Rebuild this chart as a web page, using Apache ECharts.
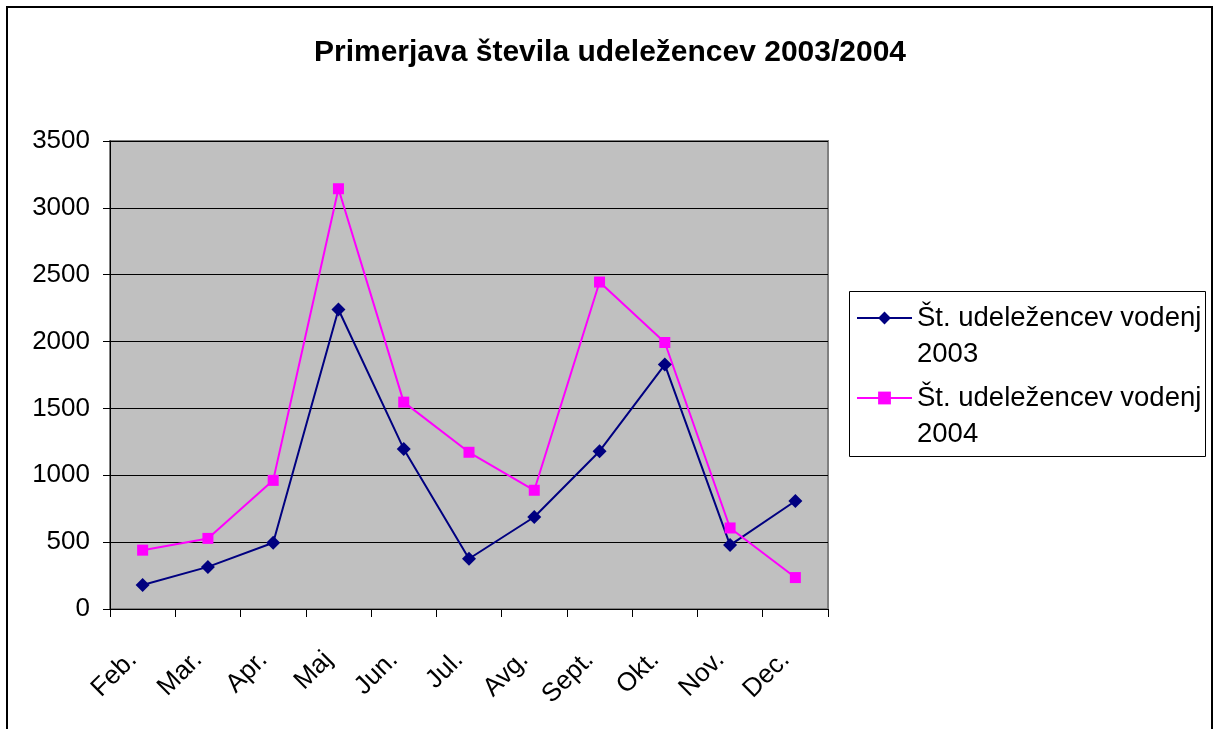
<!DOCTYPE html>
<html>
<head>
<meta charset="utf-8">
<script src="https://cdn.jsdelivr.net/npm/echarts@6/dist/echarts.min.js"></script>
<style>html,body{margin:0;padding:0;background:#fff}#c{width:1220px;height:729px}</style>
</head>
<body>
<div id="c"></div>
<script>
const titleText = 'Primerjava števila udeležencev 2003/2004';
const months = ['Feb.', 'Mar.', 'Apr.', 'Maj', 'Jun.', 'Jul.', 'Avg.', 'Sept.', 'Okt.', 'Nov.', 'Dec.'];
const name2003 = 'Št. udeležencev vodenj\n2003';
const name2004 = 'Št. udeležencev vodenj\n2004';
const values2003 = [180, 315, 495, 2240, 1197, 376, 688, 1180, 1828, 478, 808];
const values2004 = [440, 528, 962, 3143, 1547, 1172, 888, 2445, 1993, 606, 235];

const FONT = '"Liberation Sans", Arial, sans-serif';
const chart = echarts.init(document.getElementById('c'), null, {renderer: 'canvas'});
chart.setOption({
  backgroundColor: '#ffffff',
  animation: false,
  textStyle: {fontFamily: FONT},
  title: {
    text: titleText,
    left: 'center',
    top: 33,
    textStyle: {fontFamily: FONT, fontSize: 30, fontWeight: 'bold', color: '#000'}
  },
  graphic: [
    {type: 'rect', shape: {x: 7, y: 7, width: 1205, height: 800}, style: {fill: 'none', stroke: '#000', lineWidth: 2}, z: 100},
    {type: 'rect', shape: {x: 849.5, y: 291.5, width: 356, height: 165}, style: {fill: '#fff', stroke: '#000', lineWidth: 1}, z: -1}
  ],
  legend: {
    orient: 'vertical',
    left: 856,
    top: 264,
    padding: 0,
    itemGap: -28,
    itemWidth: 55,
    itemHeight: 16,
    data: [name2003, name2004],
    formatter: function (name) { return '\n' + name; },
    textStyle: {fontFamily: FONT, fontSize: 27.5, color: '#000', lineHeight: 36}
  },
  grid: {
    left: 110, right: 392, top: 141, bottom: 120,
    show: true, backgroundColor: '#C0C0C0', borderColor: '#808080', borderWidth: 2
  },
  xAxis: {
    type: 'category',
    data: months,
    boundaryGap: true,
    axisLine: {lineStyle: {color: '#000', width: 1}},
    axisTick: {show: true, length: 8, lineStyle: {color: '#000'}},
    axisLabel: {rotate: 45, margin: 37, padding: [0, 14, 0, 0], fontFamily: FONT, fontSize: 26, color: '#000', interval: 0},
    splitLine: {show: false}
  },
  yAxis: {
    type: 'value',
    min: 0, max: 3500, interval: 500,
    axisLine: {show: true, lineStyle: {color: '#000', width: 1}},
    axisTick: {show: true, length: 7, lineStyle: {color: '#000'}},
    axisLabel: {margin: 20, fontFamily: FONT, fontSize: 26, color: '#000', formatter: function (v) { return String(v); }},
    splitLine: {show: true, lineStyle: {color: '#000', width: 1}}
  },
  series: [
    {
      name: name2003, type: 'line', data: values2003,
      symbol: 'diamond', symbolSize: 14,
      lineStyle: {color: '#000080', width: 2},
      itemStyle: {color: '#000080'}
    },
    {
      name: name2004, type: 'line', data: values2004,
      symbol: 'rect', symbolSize: 11,
      lineStyle: {color: '#FF00FF', width: 2},
      itemStyle: {color: '#FF00FF'}
    }
  ]
});
</script>
</body>
</html>
